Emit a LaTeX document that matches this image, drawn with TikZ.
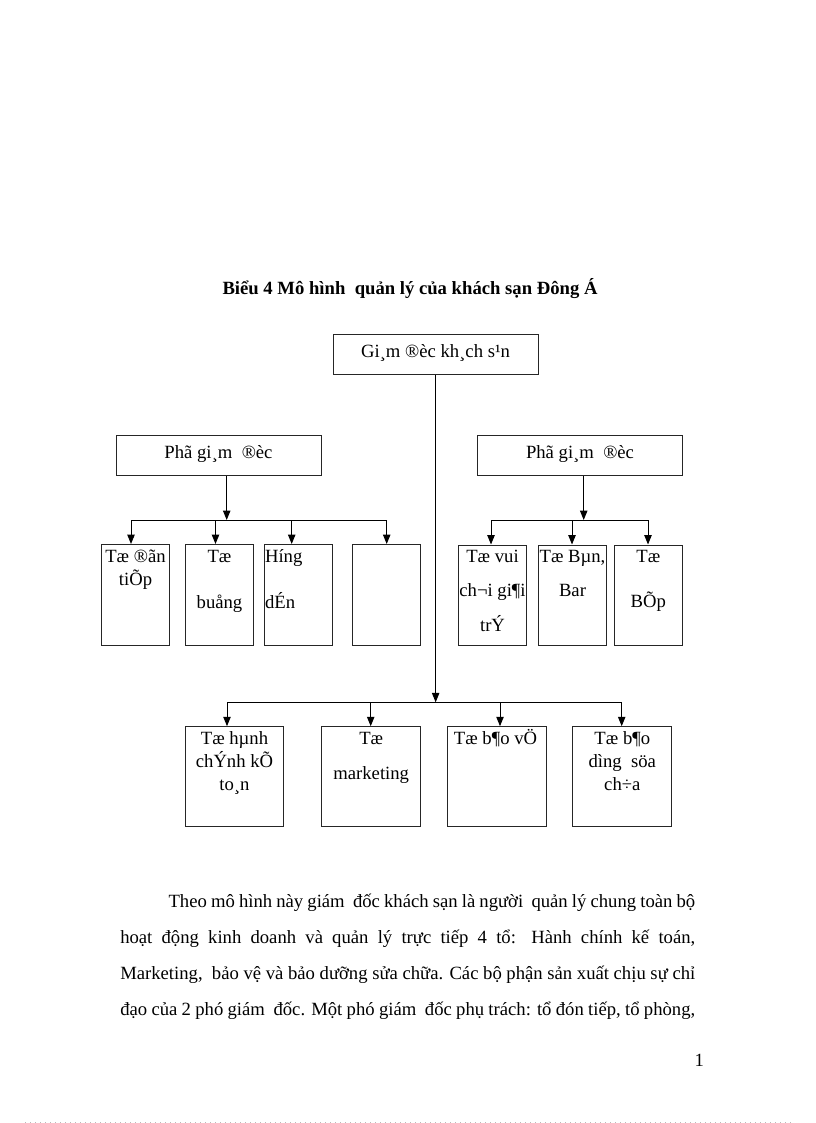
\documentclass[tikz,border=0pt]{standalone}
\usepackage{fontspec}
\setmainfont{Liberation Serif}
\usetikzlibrary{arrows.meta,fit}
\begin{document}
\begin{tikzpicture}[x=0.75pt,y=-0.75pt,
  box/.style={draw=black!85, line width=0.75pt, inner sep=0pt},
  ln/.style={draw=black, line width=0.75pt},
  arr/.style={ln, -{Triangle[length=7pt,width=5.5pt]}},
  txt/.style={anchor=base, inner sep=0pt, font=\fontsize{14}{16}\selectfont},
  txtl/.style={anchor=base west, inner sep=0pt, font=\fontsize{14}{16}\selectfont},
  para/.style={anchor=base west, inner sep=0pt, font=\fontsize{14}{16}\selectfont}]
\useasboundingbox[fill=white] (0,0) rectangle (816,1123);

% title
\node[txt, font=\bfseries\fontsize{14}{16}\selectfont] (title) at (410,294) {Biểu 4 Mô hình\ \ quản lý của khách sạn Đông Á};

% boxes
\node[box, fit={(333,334.3)(538.3,374.3)}] (gd) {};
\node[box, fit={(116.7,435)(321.7,475.7)}] (pl) {};
\node[box, fit={(477.3,435)(682.5,475.7)}] (pr) {};
\node[box, fit={(101.7,544.5)(169.3,645.7)}] (l1) {};
\node[box, fit={(185.7,544.5)(253.3,645.7)}] (l2) {};
\node[box, fit={(264.3,544.5)(332.3,645.7)}] (l3) {};
\node[box, fit={(352.7,544.5)(420,645.7)}] (l4) {};
\node[box, fit={(458.3,545)(526.7,645.7)}] (r1) {};
\node[box, fit={(538.3,545)(606.7,645.7)}] (r2) {};
\node[box, fit={(614.3,545)(682.3,645.7)}] (r3) {};
\node[box, fit={(185.7,726.7)(283.3,826.7)}] (b1) {};
\node[box, fit={(321.7,726.7)(420.7,826.7)}] (b2) {};
\node[box, fit={(447.3,726.7)(546,826.7)}] (b3) {};
\node[box, fit={(572.7,726.7)(671.7,826.7)}] (b4) {};

% box texts
\node[txt] (gdt) at (435.5,357.7) {Gi¸m ®èc kh¸ch s¹n};
\node[txt] (plt) at (218.5,458.3) {Phã gi¸m\ \ ®èc};
\node[txt] (prt) at (580,458.3) {Phã gi¸m\ \ ®èc};

\node[txt] (l1a) at (135.5,562.7) {Tæ ®ãn};
\node[txt] (l1b) at (135.5,585.5) {tiÕp};
\node[txt] (l2a) at (219.5,562.7) {Tæ};
\node[txt] (l2b) at (219.5,608.5) {buång};
\node[txtl] (l3a) at (264.8,562.7) {Híng};
\node[txtl] (l3b) at (264.8,608.5) {dÉn};

\node[txt] (r1a) at (492.5,562.3) {Tæ vui};
\node[txt] (r1b) at (492.5,596.7) {ch¬i gi¶i};
\node[txt] (r1c) at (492.5,631.5) {trÝ};
\node[txt] (r2a) at (572.5,562.3) {Tæ Bµn,};
\node[txt] (r2b) at (572.5,596.7) {Bar};
\node[txt] (r3a) at (648.3,562.3) {Tæ};
\node[txt] (r3b) at (648.3,607) {BÕp};

\node[txt] (b1a) at (234.5,744.3) {Tæ hµnh};
\node[txt] (b1b) at (234.5,767.3) {chÝnh kÕ};
\node[txt] (b1c) at (234.5,790) {to¸n};
\node[txt] (b2a) at (371.2,744.3) {Tæ};
\node[txt] (b2b) at (371.2,779) {marketing};
\node[txt] (b3a) at (495.5,744.3) {Tæ b¶o vÖ};
\node[txt] (b4a) at (622.3,744.3) {Tæ b¶o};
\node[txt] (b4b) at (622.3,767.3) {dìng\ \ söa};
\node[txt] (b4c) at (622.3,790) {ch÷a};

% bus coordinates
\coordinate (bb1) at (227,702.3);
\coordinate (bb2) at (370.7,702.3);
\coordinate (bb3) at (500,702.3);
\coordinate (bb4) at (621.7,702.3);
\coordinate (lb0) at (226.7,520);
\coordinate (lb1) at (131,520);
\coordinate (lb2) at (215.5,520);
\coordinate (lb3) at (291.7,520);
\coordinate (lb4) at (386.7,520);
\coordinate (rb0) at (583.7,520);
\coordinate (rb1) at (491,520);
\coordinate (rb2) at (572,520);
\coordinate (rb3) at (648,520);

% connectors: director to bottom bus
\draw[arr] (gd.south) -- (gd.south |- bb1);
\draw[ln] (bb1) -- (bb4);
\draw[arr] (bb1) -- (bb1 |- b1.north);
\draw[arr] (bb2) -- (bb2 |- b2.north);
\draw[arr] (bb3) -- (bb3 |- b3.north);
\draw[arr] (bb4) -- (bb4 |- b4.north);

% left deputy
\draw[arr] (lb0 |- pl.south) -- (lb0);
\draw[ln] (lb1) -- (lb4);
\draw[arr] (lb1) -- (lb1 |- l1.north);
\draw[arr] (lb2) -- (lb2 |- l2.north);
\draw[arr] (lb3) -- (lb3 |- l3.north);
\draw[arr] (lb4) -- (lb4 |- l4.north);

% right deputy
\draw[arr] (rb0 |- pr.south) -- (rb0);
\draw[ln] (rb1) -- (rb3);
\draw[arr] (rb1) -- (rb1 |- r1.north);
\draw[arr] (rb2) -- (rb2 |- r2.north);
\draw[arr] (rb3) -- (rb3 |- r3.north);

% paragraph
\node[para] (p1) at (168.3,907.3) {\makebox[395pt][s]{Theo mô hình này giám\ \ đốc khách sạn là người\ \ quản lý chung toàn bộ}};
\node[para] (p2) at (120,943.3) {\makebox[431.25pt][s]{hoạt động kinh doanh và quản lý trực tiếp 4 tổ: Hành chính kế toán,}};
\node[para] (p3) at (120,979) {\makebox[431.25pt][s]{Marketing,\ \ bảo vệ và bảo dưỡng sửa chữa. Các bộ phận sản xuất chịu sự chỉ}};
\node[para] (p4) at (120,1015) {\makebox[431.25pt][s]{đạo của 2 phó giám\ \ đốc. Một phó giám\ \ đốc phụ trách: tổ đón tiếp, tổ phòng,}};

% page number
\node[txt] (pg) at (699.3,1066.7) {1};

% page edge
\draw[gray!55, line width=0.75pt, dash pattern=on 0.75pt off 3pt] (25,1122) -- (792,1122);
\end{tikzpicture}
\end{document}
